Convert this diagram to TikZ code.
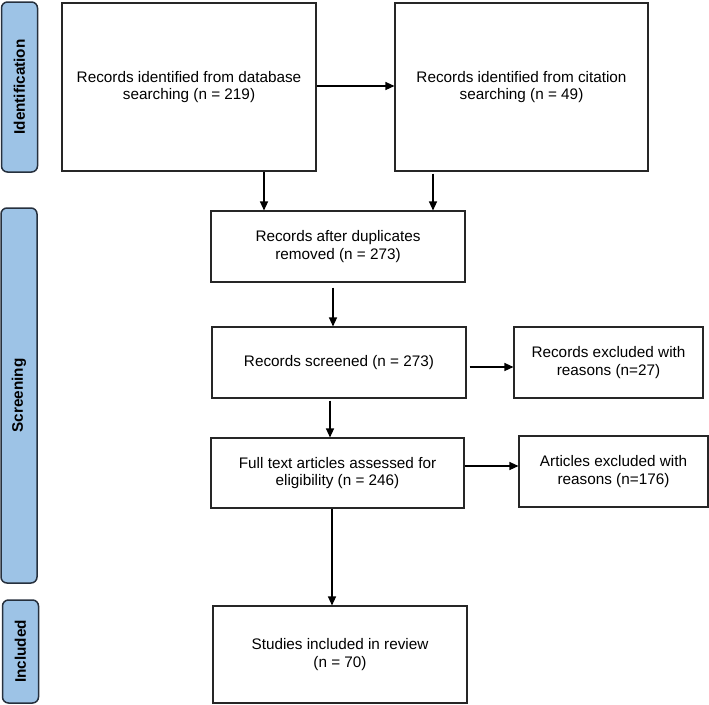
\documentclass[tikz,border=0pt]{standalone}
\usepackage{fontspec}
\setmainfont{Liberation Sans}
\usetikzlibrary{arrows.meta}
\definecolor{fasefill}{RGB}{157,195,230}
\definecolor{fasebordo}{RGB}{38,48,61}

\begin{document}
\begin{tikzpicture}[x=1pt,y=1pt,
    box/.style={draw=black!85, line width=1.1pt, align=center, inner sep=0pt,
      font=\fontsize{15.3}{17.7}\selectfont},
    fase/.style={draw=fasebordo, fill=fasefill, line width=1.5pt, rounded corners=6pt,
      rotate=90, minimum height=36pt, inner sep=0pt,
      font=\bfseries\fontsize{15.3}{17.7}\selectfont},
    freccia/.style={line width=1.2pt, -{Triangle[length=9pt,width=8pt]}}]
  \useasboundingbox (0,0) rectangle (709,-704);
  %fasi
  \node[fase, minimum width=170pt] (ident) at (19.5,-87) {Identification};
  \node[fase, minimum width=375pt] (scree) at (19,-395.5) {Screening};
  \node[fase, minimum width=103pt] (inclu) at (20.5,-651.5) {Included};
  %identificazione
  \node[box, minimum width=254pt, minimum height=168pt] (db) at (189,-87)
    {Records identified from database\\searching (n = 219)};
  \node[box, minimum width=253pt, minimum height=168pt] (cit) at (521.5,-87)
    {Records identified from citation\\searching (n = 49)};
  %screening
  \node[box, minimum width=254pt, minimum height=71pt] (dup) at (338,-246.5)
    {Records after duplicates\\removed (n = 273)};
  \node[box, minimum width=254pt, minimum height=71pt] (screened) at (339,-362.5)
    {Records screened (n = 273)};
  \node[box, minimum width=189pt, minimum height=71pt] (excl) at (608.5,-362.5)
    {Records excluded with\\reasons (n=27)};
  \node[box, minimum width=253pt, minimum height=70pt] (full) at (337.5,-473)
    {Full text articles assessed for\\eligibility (n = 246)};
  \node[box, minimum width=189pt, minimum height=71pt] (artexcl) at (613.5,-471.5)
    {Articles excluded with\\reasons (n=176)};
  %inclusi
  \node[box, minimum width=254pt, minimum height=97pt] (incl) at (340,-654.5)
    {Studies included in review\\(n = 70)};
  %frecce
  \draw[freccia] ([yshift=1pt]db.east) -- ([yshift=1pt]db.east -| cit.west);
  \draw[freccia] ([xshift=75pt]db.south) -- ([xshift=75pt]db.south |- dup.north);
  \draw[freccia, shorten <=2pt] ([xshift=-88.5pt]cit.south) -- ([xshift=-88.5pt]cit.south |- dup.north);
  \draw[freccia, shorten <=5pt] ([xshift=-5pt]dup.south) -- ([xshift=-5pt]dup.south |- screened.north);
  \draw[freccia, shorten <=2pt] ([xshift=-9pt]screened.south) -- ([xshift=-9pt]screened.south |- full.north);
  \draw[freccia, shorten <=3pt] ([yshift=-4.5pt]screened.east) -- ([yshift=-4.5pt]screened.east -| excl.west);
  \draw[freccia] ([yshift=7pt]full.east) -- ([yshift=7pt]full.east -| artexcl.west);
  \draw[freccia] ([xshift=-5.5pt]full.south) -- ([xshift=-5.5pt]full.south |- incl.north);
\end{tikzpicture}
\end{document}
